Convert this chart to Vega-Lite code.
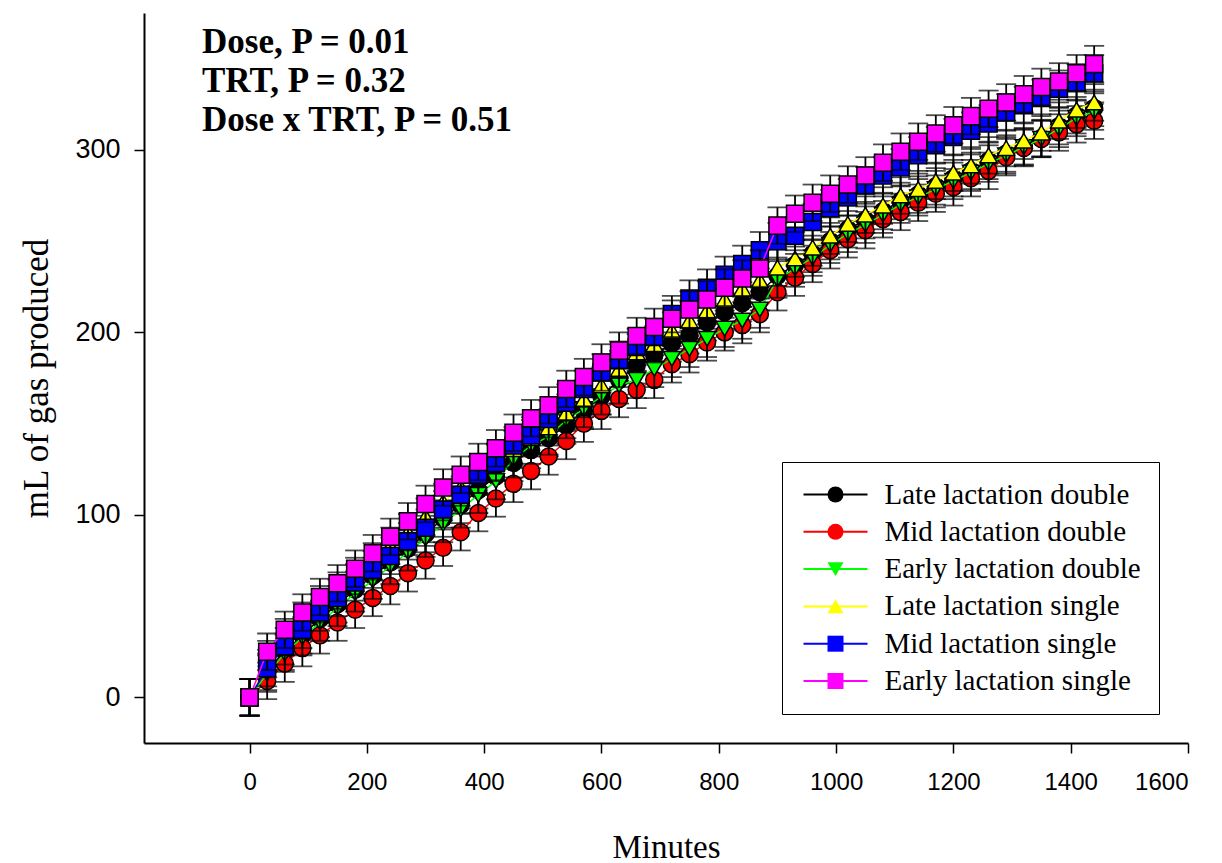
{
"$schema": "https://vega.github.io/schema/vega-lite/v6.json",
"width": 1044, "height": 730,
"autosize": "none",
"padding": {"left": 144, "top": 13, "right": 34, "bottom": 120},
"background": "white",
"title": {"text": ["Dose, P = 0.01", "TRT, P = 0.32", "Dose x TRT, P = 0.51"], "orient": "top", "anchor": "start", "frame": "group", "offset": 0, "baseline": "top", "dx": 58, "dy": 125,
          "font": "Liberation Serif", "fontSize": 35, "fontWeight": "bold", "lineHeight": 39, "color": "black"},
"data": {"values": [
{"t":0,"Late lactation double":0,"Mid lactation double":0,"Early lactation double":0,"Late lactation single":0,"Mid lactation single":0,"Early lactation single":0,"e":10},
{"t":30,"Late lactation double":14,"Mid lactation double":9,"Early lactation double":13,"Late lactation single":21,"Mid lactation single":16,"Early lactation single":25,"e":10},
{"t":60,"Late lactation double":25,"Mid lactation double":18.5,"Early lactation double":24,"Late lactation single":33,"Mid lactation single":28,"Early lactation single":37,"e":10},
{"t":90,"Late lactation double":34,"Mid lactation double":27,"Early lactation double":33,"Late lactation single":42,"Mid lactation single":37,"Early lactation single":46.5,"e":10},
{"t":120,"Late lactation double":43,"Mid lactation double":34,"Early lactation double":41,"Late lactation single":51,"Mid lactation single":46.5,"Early lactation single":55,"e":10},
{"t":150,"Late lactation double":51,"Mid lactation double":41,"Early lactation double":49,"Late lactation single":58.5,"Mid lactation single":54.5,"Early lactation single":62.5,"e":10},
{"t":180,"Late lactation double":59,"Mid lactation double":48,"Early lactation double":57,"Late lactation single":66.5,"Mid lactation single":63,"Early lactation single":70.5,"e":10},
{"t":210,"Late lactation double":66.5,"Mid lactation double":54.5,"Early lactation double":64,"Late lactation single":74.5,"Mid lactation single":70,"Early lactation single":79,"e":10},
{"t":240,"Late lactation double":74,"Mid lactation double":61,"Early lactation double":72,"Late lactation single":83,"Mid lactation single":77.5,"Early lactation single":88,"e":10},
{"t":270,"Late lactation double":81.5,"Mid lactation double":68,"Early lactation double":79.5,"Late lactation single":90.5,"Mid lactation single":85.5,"Early lactation single":96.5,"e":10},
{"t":300,"Late lactation double":89.5,"Mid lactation double":75,"Early lactation double":87,"Late lactation single":99,"Mid lactation single":93,"Early lactation single":106,"e":10},
{"t":330,"Late lactation double":98,"Mid lactation double":82,"Early lactation double":95,"Late lactation single":107,"Mid lactation single":103,"Early lactation single":115,"e":10},
{"t":360,"Late lactation double":105.5,"Mid lactation double":90.5,"Early lactation double":103,"Late lactation single":115,"Mid lactation single":111,"Early lactation single":122,"e":10},
{"t":390,"Late lactation double":113.5,"Mid lactation double":101,"Early lactation double":111,"Late lactation single":122,"Mid lactation single":122,"Early lactation single":129,"e":10},
{"t":420,"Late lactation double":121,"Mid lactation double":109,"Early lactation double":118.5,"Late lactation single":129,"Mid lactation single":128.5,"Early lactation single":136.5,"e":10},
{"t":450,"Late lactation double":128.5,"Mid lactation double":117,"Early lactation double":130.5,"Late lactation single":136,"Mid lactation single":138,"Early lactation single":145,"e":10},
{"t":480,"Late lactation double":135.5,"Mid lactation double":124,"Early lactation double":138,"Late lactation single":142,"Mid lactation single":143.5,"Early lactation single":153,"e":10},
{"t":510,"Late lactation double":142,"Mid lactation double":132,"Early lactation double":143,"Late lactation single":148,"Mid lactation single":152.5,"Early lactation single":160,"e":10},
{"t":540,"Late lactation double":149,"Mid lactation double":140.5,"Early lactation double":152,"Late lactation single":156,"Mid lactation single":161.5,"Early lactation single":169,"e":10},
{"t":570,"Late lactation double":157,"Mid lactation double":150,"Early lactation double":158,"Late lactation single":163.5,"Mid lactation single":169,"Early lactation single":175.5,"e":10},
{"t":600,"Late lactation double":165,"Mid lactation double":157,"Early lactation double":165,"Late lactation single":171,"Mid lactation single":178,"Early lactation single":183.5,"e":10},
{"t":630,"Late lactation double":174,"Mid lactation double":163.5,"Early lactation double":171,"Late lactation single":180,"Mid lactation single":185,"Early lactation single":190,"e":10},
{"t":660,"Late lactation double":182,"Mid lactation double":168.5,"Early lactation double":174,"Late lactation single":189,"Mid lactation single":192,"Early lactation single":198,"e":10},
{"t":690,"Late lactation double":187.5,"Mid lactation double":174,"Early lactation double":180,"Late lactation single":193.5,"Mid lactation single":197.5,"Early lactation single":203,"e":10},
{"t":720,"Late lactation double":194,"Mid lactation double":182.5,"Early lactation double":185.5,"Late lactation single":201,"Mid lactation single":210,"Early lactation single":207.5,"e":10},
{"t":750,"Late lactation double":198.5,"Mid lactation double":188,"Early lactation double":191,"Late lactation single":206.5,"Mid lactation single":218.5,"Early lactation single":212.5,"e":10},
{"t":780,"Late lactation double":205.5,"Mid lactation double":194.5,"Early lactation double":196.5,"Late lactation single":212,"Mid lactation single":224.5,"Early lactation single":218,"e":10},
{"t":810,"Late lactation double":211,"Mid lactation double":200,"Early lactation double":202,"Late lactation single":218,"Mid lactation single":231.5,"Early lactation single":224.5,"e":10},
{"t":840,"Late lactation double":216,"Mid lactation double":204,"Early lactation double":206.5,"Late lactation single":224,"Mid lactation single":237.5,"Early lactation single":229.5,"e":10},
{"t":870,"Late lactation double":222,"Mid lactation double":210,"Early lactation double":212.5,"Late lactation single":228.5,"Mid lactation single":245,"Early lactation single":235,"e":10},
{"t":900,"Late lactation double":231,"Mid lactation double":222,"Early lactation double":229,"Late lactation single":235.5,"Mid lactation single":250,"Early lactation single":258.5,"e":10},
{"t":930,"Late lactation double":237,"Mid lactation double":230,"Early lactation double":235,"Late lactation single":240.5,"Mid lactation single":253,"Early lactation single":265,"e":10},
{"t":960,"Late lactation double":243,"Mid lactation double":237.5,"Early lactation double":241,"Late lactation single":246.5,"Mid lactation single":260.5,"Early lactation single":271,"e":10},
{"t":990,"Late lactation double":250,"Mid lactation double":245,"Early lactation double":248,"Late lactation single":253,"Mid lactation single":268,"Early lactation single":276,"e":10},
{"t":1020,"Late lactation double":256.5,"Mid lactation double":251,"Early lactation double":254,"Late lactation single":259.5,"Mid lactation single":274,"Early lactation single":281,"e":10},
{"t":1050,"Late lactation double":261.5,"Mid lactation double":256,"Early lactation double":259,"Late lactation single":264.5,"Mid lactation single":280.5,"Early lactation single":286,"e":10},
{"t":1080,"Late lactation double":266.5,"Mid lactation double":262,"Early lactation double":264.5,"Late lactation single":269.5,"Mid lactation single":286,"Early lactation single":293,"e":10},
{"t":1110,"Late lactation double":272,"Mid lactation double":266,"Early lactation double":270,"Late lactation single":275,"Mid lactation single":290.5,"Early lactation single":299,"e":10},
{"t":1140,"Late lactation double":275.5,"Mid lactation double":271,"Early lactation double":274,"Late lactation single":278.5,"Mid lactation single":297,"Early lactation single":304.5,"e":10},
{"t":1170,"Late lactation double":280,"Mid lactation double":276,"Early lactation double":278.5,"Late lactation single":283,"Mid lactation single":302.5,"Early lactation single":309,"e":10},
{"t":1200,"Late lactation double":284.5,"Mid lactation double":279.5,"Early lactation double":283,"Late lactation single":287.5,"Mid lactation single":307,"Early lactation single":313.5,"e":10},
{"t":1230,"Late lactation double":288.5,"Mid lactation double":284.5,"Early lactation double":287.5,"Late lactation single":291.5,"Mid lactation single":310.5,"Early lactation single":318.5,"e":10},
{"t":1260,"Late lactation double":294,"Mid lactation double":288.5,"Early lactation double":292.5,"Late lactation single":297,"Mid lactation single":314.5,"Early lactation single":322.5,"e":10},
{"t":1290,"Late lactation double":298,"Mid lactation double":296,"Early lactation double":297,"Late lactation single":301,"Mid lactation single":320.5,"Early lactation single":326,"e":10},
{"t":1320,"Late lactation double":302,"Mid lactation double":301,"Early lactation double":301.5,"Late lactation single":305,"Mid lactation single":324.5,"Early lactation single":330.5,"e":10},
{"t":1350,"Late lactation double":306.5,"Mid lactation double":306,"Early lactation double":306,"Late lactation single":309.5,"Mid lactation single":328.5,"Early lactation single":334.5,"e":10},
{"t":1380,"Late lactation double":313,"Mid lactation double":309.5,"Early lactation double":311.5,"Late lactation single":316,"Mid lactation single":333.5,"Early lactation single":337.5,"e":10},
{"t":1410,"Late lactation double":319,"Mid lactation double":314,"Early lactation double":317.5,"Late lactation single":322,"Mid lactation single":337,"Early lactation single":342,"e":10},
{"t":1440,"Late lactation double":323,"Mid lactation double":316,"Early lactation double":321,"Late lactation single":326,"Mid lactation single":342,"Early lactation single":347,"e":10}
]},
"transform": [{"fold": ["Late lactation double","Mid lactation double","Early lactation double","Late lactation single","Mid lactation single","Early lactation single"], "as": ["g","v"]}],
"encoding": {
  "x": {"field": "t", "type": "quantitative",
        "scale": {"domain": [-180, 1600], "nice": false, "zero": false},
        "axis": {"title": "Minutes", "values": [0,200,400,600,800,1000,1200,1400,1600], "format": "d",
                 "labelFont": "Liberation Sans", "labelFontSize": 24, "labelPadding": 17,
                 "titleFont": "Liberation Serif", "titleFontSize": 33, "titleFontWeight": "normal", "titlePadding": 37}},
  "y": {"field": "v", "type": "quantitative",
        "scale": {"domain": [-25, 375], "nice": false, "zero": false},
        "axis": {"title": "mL of gas produced", "values": [0,100,200,300],
                 "labelFont": "Liberation Sans", "labelFontSize": 27, "labelPadding": 14,
                 "titleFont": "Liberation Serif", "titleFontSize": 35, "titleFontWeight": "normal", "titlePadding": 20}}
},
"layer": [
  {"transform": [{"filter": "datum.g === 'Late lactation double'"}],
   "layer": [
     {"mark": {"type": "errorbar", "ticks": {"size": 20, "thickness": 1.8, "color": "black"}, "rule": {"strokeWidth": 1.8, "color": "black"}}, "encoding": {"yError": {"field": "e"}}},
     {"mark": {"type": "line", "strokeWidth": 1.5}, "encoding": {"color": {"field": "g", "type": "nominal",
        "scale": {"domain": ["Early lactation single","Mid lactation single","Late lactation single","Early lactation double","Mid lactation double","Late lactation double"], "range": ["#ff00ff","#0000ff","#ffff00","#00ff00","#ff0000","#000000"]},
        "legend": {"title": null, "orient": "none", "legendX": 638, "legendY": 449, "direction": "vertical",
                   "values": ["Late lactation double","Mid lactation double","Early lactation double","Late lactation single","Mid lactation single","Early lactation single"],
                   "symbolType": "M-4,0H4", "symbolSize": 256, "symbolStrokeWidth": 2, "symbolOffset": 21,
                   "labelFont": "Liberation Serif", "labelFontSize": 29, "labelColor": "black", "labelOffset": 34.5, "labelLimit": 400,
                   "padding": 18, "rowPadding": 7.3, "strokeColor": "black"}}}},
     {"mark": {"type": "point", "filled": true, "size": 290, "stroke": "black", "strokeWidth": 1.5, "opacity": 1},
      "encoding": {
        "fill": {"field": "g", "type": "nominal",
          "scale": {"domain": ["Late lactation double","Mid lactation double","Early lactation double","Late lactation single","Mid lactation single","Early lactation single"], "range": ["#000000","#ff0000","#00ff00","#ffff00","#0000ff","#ff00ff"]},
          "legend": {"title": null, "orient": "none", "legendX": 638, "legendY": 449, "direction": "vertical", "symbolSize": 256, "symbolStrokeColor": "black", "symbolStrokeWidth": 1.5, "symbolOpacity": 1, "symbolOffset": 21,
                     "labelFont": "Liberation Serif", "labelFontSize": 29, "labelColor": "black", "labelOpacity": 0, "labelOffset": 34.5, "labelLimit": 400, "padding": 18, "rowPadding": 7.3}},
        "shape": {"field": "g", "type": "nominal",
          "scale": {"domain": ["Late lactation double","Mid lactation double","Early lactation double","Late lactation single","Mid lactation single","Early lactation single"], "range": ["circle","circle","triangle-down","triangle-up","square","square"]},
          "legend": {"title": null, "orient": "none", "legendX": 638, "legendY": 449, "direction": "vertical", "symbolSize": 256, "symbolStrokeColor": "black", "symbolStrokeWidth": 1.5, "symbolOpacity": 1, "symbolOffset": 21,
                     "labelFont": "Liberation Serif", "labelFontSize": 29, "labelColor": "black", "labelOpacity": 0, "labelOffset": 34.5, "labelLimit": 400, "padding": 18, "rowPadding": 7.3}}}}
   ]},
  {"transform": [{"filter": "datum.g === 'Mid lactation double'"}],
   "layer": [
     {"mark": {"type": "errorbar", "ticks": {"size": 20, "thickness": 1.8, "color": "black"}, "rule": {"strokeWidth": 1.8, "color": "black"}}, "encoding": {"yError": {"field": "e"}}},
     {"mark": {"type": "line", "strokeWidth": 1.5}, "encoding": {"color": {"field": "g", "type": "nominal"}}},
     {"mark": {"type": "point", "filled": true, "size": 290, "stroke": "black", "strokeWidth": 1.5, "opacity": 1}, "encoding": {"fill": {"field": "g", "type": "nominal"}, "shape": {"field": "g", "type": "nominal"}}}
   ]},
  {"transform": [{"filter": "datum.g === 'Early lactation double'"}],
   "layer": [
     {"mark": {"type": "errorbar", "ticks": {"size": 20, "thickness": 1.8, "color": "black"}, "rule": {"strokeWidth": 1.8, "color": "black"}}, "encoding": {"yError": {"field": "e"}}},
     {"mark": {"type": "line", "strokeWidth": 1.5}, "encoding": {"color": {"field": "g", "type": "nominal"}}},
     {"mark": {"type": "point", "filled": true, "size": 290, "stroke": "black", "strokeWidth": 1.5, "opacity": 1}, "encoding": {"fill": {"field": "g", "type": "nominal"}, "shape": {"field": "g", "type": "nominal"}}}
   ]},
  {"transform": [{"filter": "datum.g === 'Late lactation single'"}],
   "layer": [
     {"mark": {"type": "errorbar", "ticks": {"size": 20, "thickness": 1.8, "color": "black"}, "rule": {"strokeWidth": 1.8, "color": "black"}}, "encoding": {"yError": {"field": "e"}}},
     {"mark": {"type": "line", "strokeWidth": 1.5}, "encoding": {"color": {"field": "g", "type": "nominal"}}},
     {"mark": {"type": "point", "filled": true, "size": 290, "stroke": "black", "strokeWidth": 1.5, "opacity": 1}, "encoding": {"fill": {"field": "g", "type": "nominal"}, "shape": {"field": "g", "type": "nominal"}}}
   ]},
  {"transform": [{"filter": "datum.g === 'Mid lactation single'"}],
   "layer": [
     {"mark": {"type": "errorbar", "ticks": {"size": 20, "thickness": 1.8, "color": "black"}, "rule": {"strokeWidth": 1.8, "color": "black"}}, "encoding": {"yError": {"field": "e"}}},
     {"mark": {"type": "line", "strokeWidth": 1.5}, "encoding": {"color": {"field": "g", "type": "nominal"}}},
     {"mark": {"type": "point", "filled": true, "size": 290, "stroke": "black", "strokeWidth": 1.5, "opacity": 1}, "encoding": {"fill": {"field": "g", "type": "nominal"}, "shape": {"field": "g", "type": "nominal"}}}
   ]},
  {"transform": [{"filter": "datum.g === 'Early lactation single'"}],
   "layer": [
     {"mark": {"type": "errorbar", "ticks": {"size": 20, "thickness": 1.8, "color": "black"}, "rule": {"strokeWidth": 1.8, "color": "black"}}, "encoding": {"yError": {"field": "e"}}},
     {"mark": {"type": "line", "strokeWidth": 1.5}, "encoding": {"color": {"field": "g", "type": "nominal"}}},
     {"mark": {"type": "point", "filled": true, "size": 290, "stroke": "black", "strokeWidth": 1.5, "opacity": 1}, "encoding": {"fill": {"field": "g", "type": "nominal"}, "shape": {"field": "g", "type": "nominal"}}}
   ]}
],
"config": {
  "view": {"stroke": null},
  "axis": {"grid": false, "domainColor": "black", "domainWidth": 2, "tickColor": "black", "tickWidth": 1.5, "tickSize": 10, "labelColor": "black", "titleColor": "black"}
}
}
